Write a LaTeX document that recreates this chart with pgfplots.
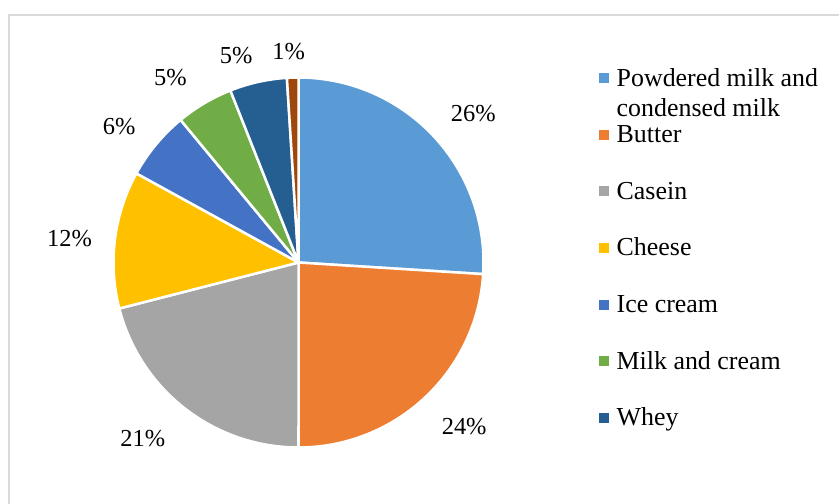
\documentclass[border=0pt]{standalone}
\usepackage{fontspec}
\setmainfont{Liberation Serif}
\usepackage{pgfplots}
\pgfplotsset{compat=1.18}
\definecolor{pieA}{HTML}{5B9BD5}
\definecolor{pieB}{HTML}{ED7D31}
\definecolor{pieC}{HTML}{A5A5A5}
\definecolor{pieD}{HTML}{FFC000}
\definecolor{pieE}{HTML}{4472C4}
\definecolor{pieF}{HTML}{70AD47}
\definecolor{pieG}{HTML}{255E91}
\definecolor{pieH}{HTML}{9E480E}
\definecolor{frame}{HTML}{D9D9D9}
\def\cx{298.5}
\def\cy{262.5}
\def\R{185}
% #1 = cumulative share before this slice (%), #2 = share (%), #3 = colour, #4 = extra options
\newcommand{\pieslice}[4]{%
  \pgfmathsetmacro\ta{90-3.6*(#1+#2)}%
  \pgfmathsetmacro\tb{90-3.6*(#1)}%
  \edef\doslice{\noexpand\addplot[fill=#3, draw=white, line width=2.5bp, line join=round,
    domain=\ta:\tb, samples=120, variable=\noexpand\t, #4]
    ({\cx+\R*cos(\noexpand\t)},{\cy-\R*sin(\noexpand\t)}) -- (axis cs:\cx,\cy) -- cycle;}%
  \doslice
}
\begin{document}
\begin{tikzpicture}
\begin{axis}[
  at={(0,0)}, anchor=south west,
  width=839bp, height=504bp, scale only axis,
  xmin=0, xmax=839, ymin=0, ymax=504, y dir=reverse,
  enlargelimits=false, hide axis, clip=true,
  legend style={at={(axis cs:599.3,73)}, anchor=north west, draw=none, fill=none,
    inner sep=0pt, outer sep=0pt, font=\fontsize{26}{30.7}\selectfont,
    row sep=43.15bp, column sep=7.4bp,
    nodes={inner sep=0pt, outer sep=0pt, text height=0pt, text depth=0pt},
    cells={anchor=base west}},
  legend image code/.code={\fill[#1, draw=none] (0bp,3bp) rectangle (10bp,13bp);},
]
\draw[frame, line width=1.4bp] (axis cs:9,15) rectangle (axis cs:900,600);
% shares in percent: 26, 24, 21, 12, 6, 5, 5, 1
\pieslice{0}{26}{pieA}{}
\addlegendentry{\smash{\vtop{\hbox{Powdered milk and}\hbox{condensed milk}}}}
\pieslice{26}{24}{pieB}{}
\addlegendentry{Butter}
\pieslice{50}{21}{pieC}{}
\addlegendentry{Casein}
\pieslice{71}{12}{pieD}{}
\addlegendentry{Cheese}
\pieslice{83}{6}{pieE}{}
\addlegendentry{Ice cream}
\pieslice{89}{5}{pieF}{}
\addlegendentry{Milk and cream}
\pieslice{94}{5}{pieG}{}
\addlegendentry{Whey}
\pieslice{99}{1}{pieH}{forget plot}
\begin{scope}[every node/.style={font=\fontsize{24.5}{28}\selectfont, anchor=base, inner sep=0pt}]
\node at (axis cs:473.3,121) {26\%};
\node at (axis cs:464.2,434) {24\%};
\node at (axis cs:142.8,446.7) {21\%};
\node at (axis cs:69.5,246) {12\%};
\node at (axis cs:119.2,134) {6\%};
\node at (axis cs:170.5,86) {5\%};
\node at (axis cs:236.2,63.3) {5\%};
\node at (axis cs:288.7,60) {1\%};
\end{scope}
\end{axis}
\pgfresetboundingbox
\useasboundingbox (0,0) rectangle (839bp,504bp);
\end{tikzpicture}
\end{document}
